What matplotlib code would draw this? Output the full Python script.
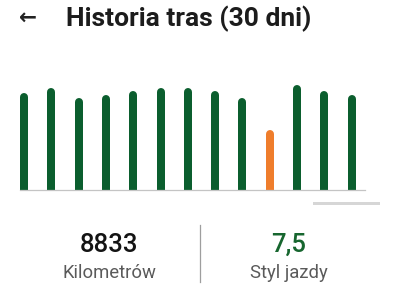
import numpy as np
import matplotlib.pyplot as plt
from matplotlib.patches import Rectangle

# dane
dni = np.arange(13)
dystans = [96.7, 101.7, 91.7, 95.3, 99.3, 101.7, 101.7, 99.3, 91.7, 60.0, 105.0, 99.3, 95.3]
kolory = ['#0b5e2e'] * 9 + ['#ef7d2c'] + ['#0b5e2e'] * 3
tytul = 'Historia tras (30 dni)'
kilometry = '8833'
styl = '7,5'

plt.rcParams['font.family'] = ['Roboto', 'DejaVu Sans']

fig = plt.figure(figsize=(4, 3), dpi=100)
fig.patch.set_facecolor('white')

# wykres slupkowy (piksele: baza y=190, gora y=70)
ax = fig.add_axes([20 / 400, (300 - 190) / 300, 345 / 400, 120 / 300])
ax.set_xlim((20 - 24) / 27.3, (365 - 24) / 27.3)
ax.set_ylim(0, 120)
szer_pt = 8 * 72 / 100
promien = 4  # px, zaokraglenie gory slupka (1 jednostka = 1 px)
for x, h, c in zip(dni, dystans, kolory):
    ax.vlines(x, -10, h - promien, colors=c, linewidth=szer_pt, capstyle='round')
for s in ['top', 'left', 'right']:
    ax.spines[s].set_visible(False)
ax.spines['bottom'].set_color('#c4c4c4')
ax.spines['bottom'].set_linewidth(0.9)
ax.set_xticks([])
ax.set_yticks([])

# pasek przewijania
fig.patches.append(Rectangle((313 / 400, (300 - 205) / 300), 67 / 400, 3.5 / 300,
                             transform=fig.transFigure, color='#d6d6d6', lw=0))

# naglowek
fig.text(27.5 / 400, 1 - 17.5 / 300, '\u2190', family='DejaVu Sans', fontsize=15.5,
         fontweight='bold', color='#222222', ha='center', va='center')
fig.text(66 / 400, 1 - 26 / 300, tytul, fontsize=19, fontweight='bold',
         color='#1c1c1c', ha='left', va='baseline')

# statystyki
fig.text(109 / 400, 1 - 251.5 / 300, kilometry, fontsize=18.5, fontweight='medium',
         color='#141414', ha='center', va='baseline')
fig.text(109 / 400, 1 - 278 / 300, 'Kilometrów', fontsize=13.3, color='#5a5a5a',
         ha='center', va='baseline')
fig.text(289 / 400, 1 - 251.5 / 300, styl, fontsize=18.5, fontweight='medium',
         color='#17662f', ha='center', va='baseline')
fig.text(289 / 400, 1 - 278 / 300, 'Styl jazdy', fontsize=13.3, color='#5a5a5a',
         ha='center', va='baseline')
fig.add_artist(plt.Line2D([200 / 400, 200 / 400], [1 - 282 / 300, 1 - 225 / 300],
                          transform=fig.transFigure, color='#9e9e9e', lw=0.9))

fig.savefig('out.png', dpi=100, facecolor='white')
